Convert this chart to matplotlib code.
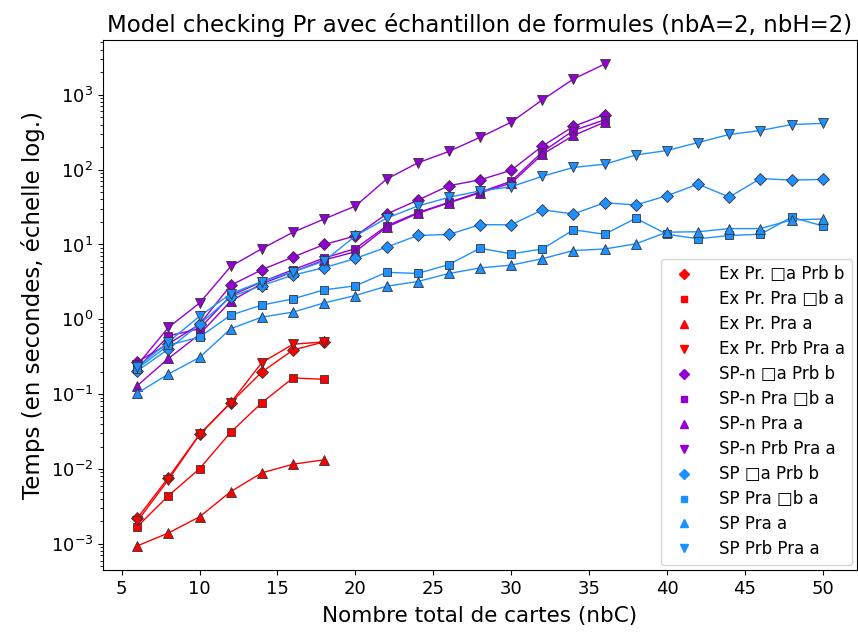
import matplotlib.pyplot as plt
from matplotlib.lines import Line2D

# Nombre total de cartes
nbc_ex = [6, 8, 10, 12, 14, 16, 18]
nbc_spn = [6, 8, 10, 12, 14, 16, 18, 20, 22, 24, 26, 28, 30, 32, 34, 36]
nbc_sp = [6, 8, 10, 12, 14, 16, 18, 20, 22, 24, 26, 28, 30, 32, 34, 36,
          38, 40, 42, 44, 46, 48, 50]

# Exact (Ex Pr.)
ex_box_a = [0.0022, 0.0077, 0.029, 0.077, 0.198, 0.39, 0.50]
ex_pra_box_b = [0.0017, 0.0044, 0.0101, 0.031, 0.077, 0.165, 0.158]
ex_pra_a = [0.00094, 0.0014, 0.0023, 0.0050, 0.0089, 0.0116, 0.0133]
ex_prb_pra = [0.0020, 0.0072, 0.029, 0.077, 0.265, 0.465, 0.50]

# SP-n
spn_box_a = [0.27, 0.47, 0.86, 2.85, 4.6, 6.8, 10.0, 13.0, 25.5, 39, 61,
             73, 98, 206, 378, 545]
spn_pra_box_b = [0.22, 0.60, 0.75, 2.08, 3.17, 4.6, 6.6, 8.8, 17.7, 26.6,
                 36.6, 50, 70, 172, 333, 462]
spn_pra_a = [0.13, 0.30, 0.63, 1.75, 3.0, 4.3, 6.2, 8.0, 17.0, 26.0, 36.0,
             49, 66, 160, 286, 430]
spn_prb_pra = [0.245, 0.78, 1.65, 5.1, 8.8, 14.6, 21.9, 32.6, 74.6, 123,
               175, 270, 430, 855, 1625, 2570]

# SP
sp_box_a = [0.205, 0.40, 0.86, 2.0, 2.83, 3.9, 4.9, 6.5, 9.2, 13.2, 13.6,
            18.4, 18.3, 29, 25.6, 36.1, 33.7, 44.8, 64, 43, 76, 72.4, 74]
sp_pra_box_b = [0.22, 0.45, 0.58, 1.14, 1.55, 1.88, 2.48, 2.8, 4.25, 4.1,
                5.4, 8.9, 7.5, 8.7, 15.7, 13.7, 22.4, 13.7, 11.9, 13.2, 13.7,
                23.1, 17.7]
sp_pra_a = [0.103, 0.186, 0.31, 0.75, 1.07, 1.25, 1.66, 2.08, 2.77, 3.2,
            4.1, 4.86, 5.3, 6.46, 8.3, 8.7, 10.2, 14.6, 14.8, 16.3, 16.3,
            21.3, 21.9]
sp_prb_pra = [0.23, 0.50, 1.1, 2.2, 3.2, 4.3, 6.0, 13.0, 22.4, 32.6, 42.6,
              52, 59, 81.6, 107, 118, 157, 180, 230, 295, 333, 400, 415]

labels = ['Ex Pr. \u25a1a Prb b', 'Ex Pr. Pra \u25a1b a', 'Ex Pr. Pra a',
          'Ex Pr. Prb Pra a',
          'SP-n \u25a1a Prb b', 'SP-n Pra \u25a1b a', 'SP-n Pra a',
          'SP-n Prb Pra a',
          'SP \u25a1a Prb b', 'SP Pra \u25a1b a', 'SP Pra a', 'SP Prb Pra a']

red = '#ff0000'
purple = '#9400d3'
blue = '#1e90ff'
markers = ['D', 's', '^', 'v']
msizes = [6.5, 6, 7, 7]

groups = [
    (nbc_ex, [ex_box_a, ex_pra_box_b, ex_pra_a, ex_prb_pra], red),
    (nbc_spn, [spn_box_a, spn_pra_box_b, spn_pra_a, spn_prb_pra], purple),
    (nbc_sp, [sp_box_a, sp_pra_box_b, sp_pra_a, sp_prb_pra], blue),
]

fig = plt.figure(figsize=(8.58, 6.37), dpi=100)
ax = fig.add_axes([103 / 858, 67 / 637, 754 / 858, 530 / 637])

handles = []
for xs, series, color in groups:
    for ys, m, ms in zip(series, markers, msizes):
        ax.plot(xs, ys, color=color, linewidth=1, marker=m, markersize=ms,
                markeredgecolor='#333333', markeredgewidth=0.6)
        handles.append(Line2D([], [], linestyle='none', marker=m,
                              color=color, markersize=ms - 1.5))

ax.set_yscale('log')
ax.set_xticks(range(5, 55, 5))
ax.set_xlabel('Nombre total de cartes (nbC)', fontsize=15.5, labelpad=6)
ax.set_ylabel('Temps (en secondes, échelle log.)', fontsize=16.5)
ax.set_title('Model checking Pr avec échantillon de formules (nbA=2, nbH=2)',
             fontsize=16.5)
ax.tick_params(axis='both', which='major', labelsize=13)

ax.legend(handles, labels, loc='lower right', fontsize=12,
          borderaxespad=0.3, labelspacing=0.42, handletextpad=1.1)

plt.savefig('out.png', dpi=100)
